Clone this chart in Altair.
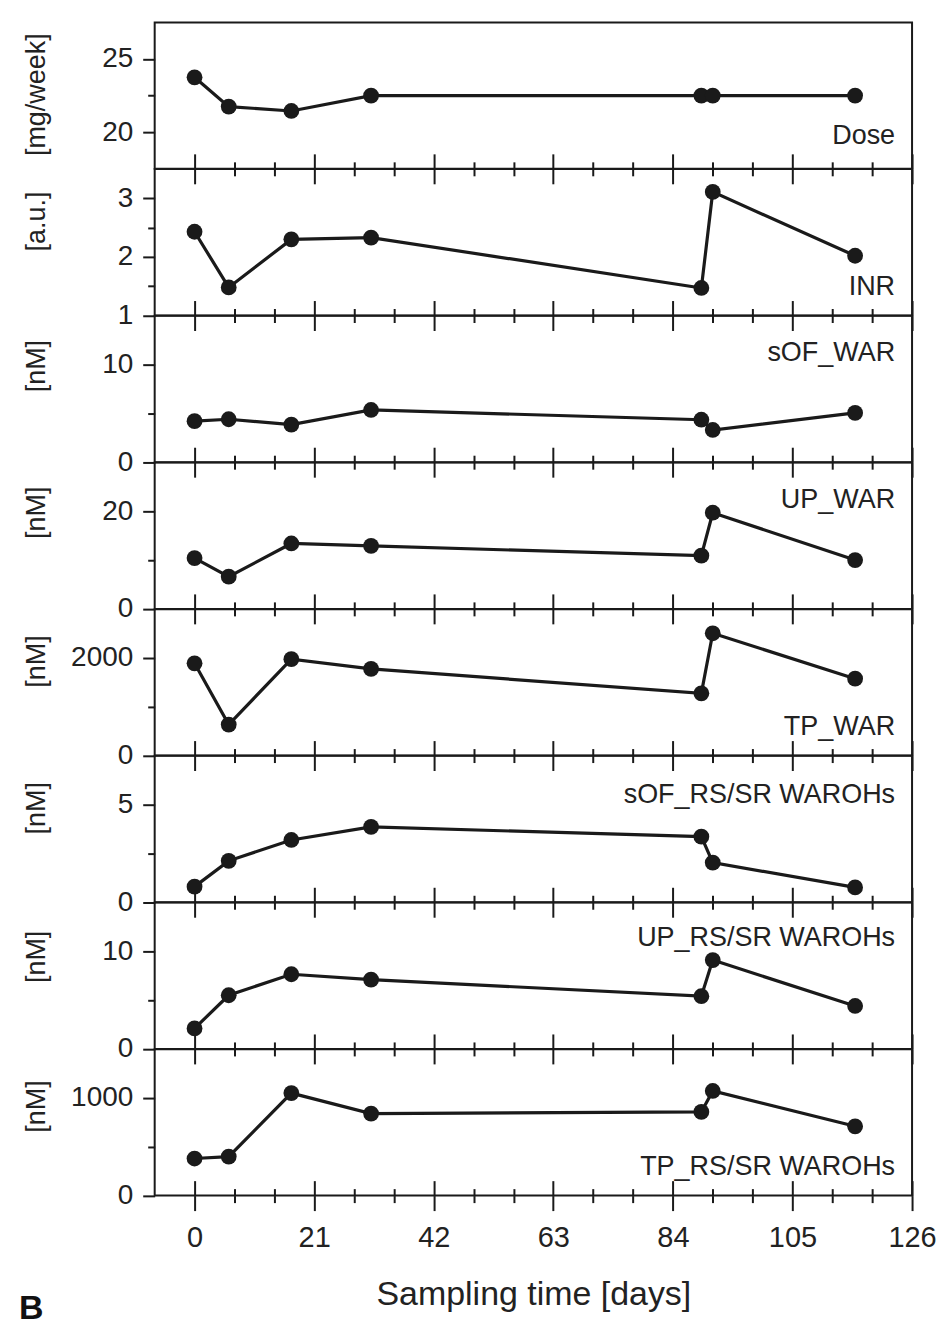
import altair as alt
import pandas as pd

FONT = "Liberation Sans"
INK = "#1a1a1a"

days = [0, 6, 17, 31, 89, 91, 116]

dose = [23.75, 21.75, 21.45, 22.5, 22.5, 22.5, 22.5]
inr = [2.43, 1.48, 2.30, 2.33, 1.47, 3.11, 2.02]
sof_war = [4.2, 4.4, 3.85, 5.35, 4.35, 3.3, 5.05]
up_war = [10.4, 6.6, 13.4, 12.9, 10.9, 19.7, 10.0]
tp_war = [1890, 635, 1975, 1775, 1275, 2505, 1575]
sof_rs = [0.8, 2.12, 3.19, 3.86, 3.36, 2.03, 0.76]
up_rs = [2.1, 5.5, 7.65, 7.1, 5.4, 9.1, 4.4]
tp_rs = [380, 400, 1050, 840, 857, 1072, 710]

names = ["Dose", "INR", "sOF_WAR", "UP_WAR", "TP_WAR",
         "sOF_RS/SR WAROHs", "UP_RS/SR WAROHs", "TP_RS/SR WAROHs"]
units = ["[mg/week]", "[a.u.]", "[nM]", "[nM]", "[nM]", "[nM]", "[nM]", "[nM]"]
series = [dose, inr, sof_war, up_war, tp_war, sof_rs, up_rs, tp_rs]
domains = [[17.5, 27.5], [1, 3.5], [0, 15], [0, 30], [0, 3000],
           [0, 7.5], [0, 15], [0, 1500]]
y_major = [[20, 25], [1, 2, 3], [0, 10], [0, 20], [0, 2000],
           [0, 5], [0, 10], [0, 1000]]
y_minor = [[22.5], [1.5, 2.5], [5], [10], [1000], [2.5], [5], [500]]
label_y = [122, 126, 45, 46, 126, 47, 44, 126]
title_y = [72, 52, 50, 50, 52, 52, 54, 57]

x_major = [0, 21, 42, 63, 84, 105, 126]
x_minor = [7, 14, 28, 35, 49, 56, 70, 77, 91, 98, 112, 119]

W = 759
H = 146.75
MAJ = 15
MIN = 7


def panel(i):
    last = i == len(series) - 1
    df = pd.DataFrame({"day": days, "val": series[i]})
    xs = alt.Scale(domain=[-7, 126], nice=False, zero=False)
    ys = alt.Scale(domain=domains[i], nice=False, zero=False)
    base = alt.Chart(df)

    ax_major_down = alt.Axis(
        orient="bottom", values=x_major, tickSize=MAJ, labels=last,
        labelFontSize=29, labelPadding=13, labelFlush=False,
        title="Sampling time [days]" if last else None,
        titleFontSize=34, titleY=99, titleBaseline="middle",
        domain=False, grid=False)
    ax_minor_down = alt.Axis(orient="bottom", values=x_minor, tickSize=MIN,
                             labels=False, title=None, domain=False, grid=False)
    ax_major_up = alt.Axis(orient="bottom", values=x_major, tickSize=MAJ,
                           offset=-MAJ, labels=False, title=None,
                           domain=False, grid=False)
    ax_minor_up = alt.Axis(orient="bottom", values=x_minor, tickSize=MIN,
                           offset=-MIN, labels=False, title=None,
                           domain=False, grid=False)
    ay_major = alt.Axis(
        orient="left", values=y_major[i], tickSize=12, labelFontSize=28,
        labelPadding=10, format="d", title=units[i], titleFontSize=27,
        titleX=-118, titleY=title_y[i], titleAngle=270,
        titleBaseline="middle", titleAlign="center",
        domain=False, grid=False)
    ay_minor = alt.Axis(orient="left", values=y_minor[i], tickSize=7,
                        labels=False, title=None, domain=False, grid=False)

    line = base.mark_line(color=INK, strokeWidth=3.2).encode(
        x=alt.X("day:Q", scale=xs, axis=ax_major_down),
        y=alt.Y("val:Q", scale=ys, axis=ay_major))
    pts = base.mark_circle(size=250, color=INK, opacity=1).encode(
        x=alt.X("day:Q", scale=xs, axis=ax_minor_down),
        y=alt.Y("val:Q", scale=ys, axis=ay_minor))
    up1 = base.mark_point(opacity=0).encode(
        x=alt.X("day:Q", scale=xs, axis=ax_major_up),
        y=alt.Y("val:Q", scale=ys, axis=None))
    up2 = base.mark_point(opacity=0).encode(
        x=alt.X("day:Q", scale=xs, axis=ax_minor_up),
        y=alt.Y("val:Q", scale=ys, axis=None))
    lab = alt.Chart(pd.DataFrame({"t": [names[i]]})).mark_text(
        align="right", baseline="alphabetic", fontSize=27, font=FONT,
        color="#222").encode(text="t:N", x=alt.value(742),
                             y=alt.value(label_y[i]))
    layers = [line, pts, up1, up2, lab]
    if last:
        b = alt.Chart(pd.DataFrame({"t": ["B"]})).mark_text(
            align="left", baseline="alphabetic", fontSize=34,
            fontWeight="bold", font=FONT, color="#111").encode(
            text="t:N", x=alt.value(-136), y=alt.value(H + 124))
        layers.append(b)
    return alt.layer(*layers).resolve_axis(
        x="independent", y="independent").properties(width=W, height=H)


chart = alt.vconcat(*[panel(i) for i in range(len(series))],
                    spacing=0, bounds="flush").properties(
    padding={"left": 10, "top": 12, "right": 0, "bottom": 0}
).configure_view(stroke=INK, strokeWidth=2).configure_axis(
    tickColor=INK, tickWidth=2, labelFont=FONT, titleFont=FONT,
    labelColor="#222", titleColor="#222", titleFontWeight="normal")

chart.save("out.html", embed_options={"renderer": "svg", "actions": False})
